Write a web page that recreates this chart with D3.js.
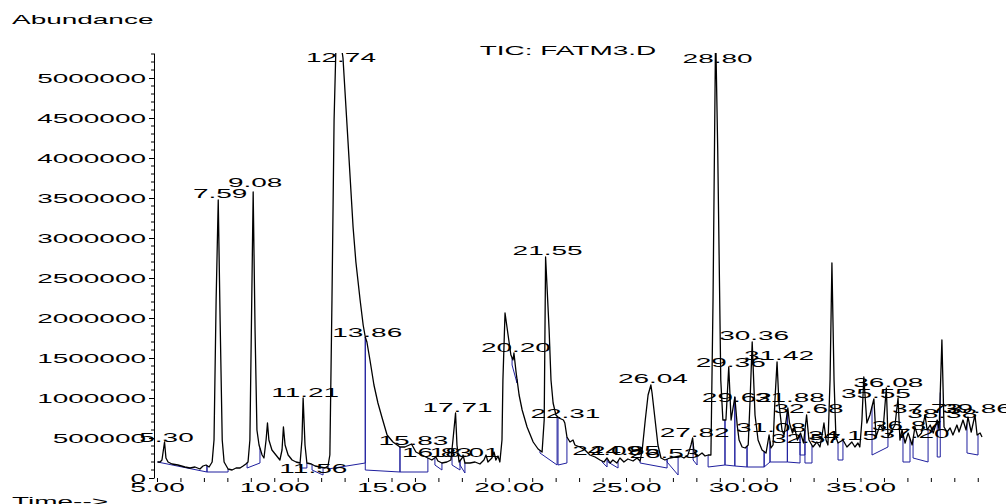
<!DOCTYPE html>
<html>
<head>
<meta charset="utf-8">
<script src="https://cdn.jsdelivr.net/npm/d3@7"></script>
<style>
body { margin: 0; background: #fff; }
svg text { font-family: "Liberation Sans", Arial, sans-serif; font-size: 13px; fill: #000; }
</style>
</head>
<body>
<svg id="chart" width="1006" height="504"></svg>
<script>
// TIC trace: [time (min), abundance]
const ticTrace = [
  [5.00,200000],[5.11,200000],[5.19,225000],[5.30,450000],[5.36,250000],[5.45,200000],[5.62,175000],
  [5.87,162500],[6.17,137500],[6.39,125000],[6.60,137500],[6.81,112500],[6.94,150000],[7.07,162500],
  [7.20,137500],[7.33,200000],[7.41,475000],[7.50,2225000],[7.59,3475000],[7.67,1975000],[7.76,475000],
  [7.84,200000],[8.01,112500],[8.18,100000],[8.35,125000],[8.52,125000],[8.65,150000],[8.77,175000],
  [8.86,200000],[8.94,475000],[9.08,3575000],[9.16,1850000],[9.24,600000],[9.33,412500],[9.46,287500],
  [9.54,250000],[9.63,475000],[9.69,687500],[9.75,475000],[9.88,350000],[10.05,287500],[10.22,225000],
  [10.31,350000],[10.37,637500],[10.44,412500],[10.57,287500],[10.74,225000],[10.91,200000],[11.08,187500],
  [11.16,475000],[11.21,1000000],[11.29,412500],[11.37,187500],[11.56,175000],[11.72,150000],[11.93,137500],
  [12.14,125000],[12.27,150000],[12.35,287500],[12.44,2225000],[12.53,4475000],[12.61,5400000],[12.74,5600000],
  [12.91,5250000],[13.12,4225000],[13.34,3137500],[13.46,2700000],[13.64,2225000],[13.77,1912500],[13.86,1762500],
  [13.93,1700000],[14.06,1475000],[14.23,1162500],[14.40,937500],[14.58,750000],[14.79,537500],[15.04,450000],
  [15.34,387500],[15.55,387500],[15.83,425000],[16.02,325000],[16.27,287500],[16.53,250000],[16.70,225000],
  [16.87,262500],[16.96,212500],[17.13,187500],[17.34,200000],[17.51,225000],[17.60,475000],[17.71,812500],
  [17.77,412500],[17.86,200000],[17.99,250000],[18.03,287500],[18.11,187500],[18.33,187500],[18.54,200000],
  [18.75,175000],[18.92,225000],[19.01,287500],[19.09,200000],[19.26,250000],[19.35,325000],[19.43,225000],
  [19.52,275000],[19.60,200000],[19.69,475000],[19.73,1225000],[19.82,2062500],[19.95,1787500],[20.07,1537500],
  [20.16,1475000],[20.20,1562500],[20.29,1325000],[20.42,1037500],[20.55,850000],[20.76,637500],[21.02,450000],
  [21.23,362500],[21.40,325000],[21.49,725000],[21.55,2762500],[21.70,1850000],[21.78,1225000],[21.87,937500],
  [21.99,787500],[22.12,750000],[22.31,725000],[22.37,687500],[22.46,512500],[22.59,450000],[22.72,475000],
  [22.80,412500],[23.01,387500],[23.23,350000],[23.44,287500],[23.66,262500],[23.87,225000],[24.04,200000],
  [24.17,250000],[24.30,187500],[24.42,225000],[24.59,187500],[24.72,250000],[24.89,200000],[25.06,237500],
  [25.28,212500],[25.45,250000],[25.58,212500],[25.67,350000],[25.80,725000],[25.92,1037500],[26.04,1162500],
  [26.09,1062500],[26.22,725000],[26.34,412500],[26.47,250000],[26.64,225000],[26.85,250000],[27.07,262500],
  [27.28,275000],[27.45,250000],[27.62,287500],[27.75,412500],[27.82,500000],[27.88,325000],[28.05,275000],
  [28.22,312500],[28.35,275000],[28.48,287500],[28.60,287500],[28.69,2225000],[28.80,5600000],[28.89,4100000],
  [29.02,1225000],[29.11,725000],[29.24,725000],[29.36,1387500],[29.46,725000],[29.62,1012500],[29.72,662500],
  [29.80,475000],[29.93,387500],[30.06,375000],[30.19,412500],[30.27,975000],[30.36,1700000],[30.48,787500],
  [30.61,475000],[30.78,350000],[30.95,312500],[31.08,537500],[31.16,375000],[31.25,412500],[31.33,975000],
  [31.42,1450000],[31.50,937500],[31.63,600000],[31.72,537500],[31.88,875000],[31.95,687500],[32.08,562500],
  [32.16,637500],[32.29,475000],[32.42,562500],[32.55,437500],[32.61,600000],[32.68,787500],[32.78,475000],
  [32.95,387500],[33.12,450000],[33.25,387500],[33.34,537500],[33.42,687500],[33.51,475000],[33.59,412500],
  [33.68,1225000],[33.76,2687500],[33.85,1225000],[33.93,512500],[34.02,437500],[34.23,475000],[34.40,387500],
  [34.61,450000],[34.74,387500],[34.87,437500],[34.95,387500],[35.04,725000],[35.12,1262500],[35.25,687500],
  [35.38,787500],[35.55,987500],[35.64,512500],[35.81,662500],[35.94,600000],[36.08,1125000],[36.15,512500],
  [36.32,600000],[36.45,662500],[36.58,1000000],[36.66,475000],[36.75,600000],[36.88,437500],[37.01,562500],
  [37.18,412500],[37.30,637500],[37.43,512500],[37.58,562500],[37.73,787500],[37.82,600000],[37.95,662500],
  [38.08,562500],[38.25,725000],[38.33,600000],[38.45,1725000],[38.54,637500],[38.67,575000],[38.80,625000],
  [38.92,537500],[39.09,662500],[39.18,575000],[39.35,725000],[39.48,600000],[39.56,762500],[39.70,575000],
  [39.86,787500],[39.95,537500],[40.08,562500],[40.16,512500]
];

// integration baselines: [t1, abundance1, t2, abundance2]
const baselines = [
  [5.00,200000,7.11,75000],[7.11,75000,8.01,75000],[8.82,125000,9.37,187500],
  [11.08,125000,11.37,125000],[11.59,100000,12.06,37500],[12.27,112500,13.86,187500],
  [13.86,100000,15.34,75000],[15.34,75000,16.53,75000],[16.83,162500,17.13,100000],
  [17.56,162500,17.90,100000],[17.90,162500,18.11,62500],[20.12,1412500,20.33,1187500],
  [21.31,312500,22.04,162500],[22.08,162500,22.46,187500],[23.96,200000,24.17,137500],
  [24.21,200000,24.64,125000],[25.58,187500,26.73,125000],[26.73,200000,27.20,37500],
  [27.84,225000,28.01,162500],[28.48,137500,29.20,162500],[29.20,162500,29.62,150000],
  [29.62,150000,30.14,137500],[30.14,137500,30.87,137500],[30.87,137500,31.12,200000],
  [31.12,200000,31.86,200000],[31.86,200000,32.40,187500],[32.40,287500,32.61,287500],
  [32.61,187500,32.91,187500],[34.02,225000,34.23,225000],[35.47,287500,36.15,387500],
  [36.79,200000,37.09,200000],[37.22,250000,37.86,200000],[38.25,262500,38.38,262500],
  [39.52,312500,39.99,287500]
];

const peakNames = ["5.30","7.59","9.08","11.21","11.56","12.74","13.86","15.83","16.83","18.01","17.71",
  "20.20","21.55","22.31","24.09","24.85","26.53","26.04","27.82","28.80","29.36","29.62","30.36","31.08",
  "31.42","31.88","32.57","32.68","34.15","35.55","36.08","36.87","37.20","37.73","38.38","39.86"];
const peakTimes = [5.30,7.59,9.08,11.21,11.56,12.74,13.86,15.83,16.83,18.01,17.71,
  20.20,21.55,22.31,24.09,24.85,26.53,26.04,27.82,28.80,29.36,29.62,30.36,31.08,
  31.42,31.88,32.57,32.68,34.15,35.55,36.08,36.87,37.20,37.73,38.38,39.86];
// abundance at which each label's baseline sits
const peakLabelAbund = [450000,3500000,3637500,1012500,62500,5200000,1762500,412500,262500,262500,825000,
  1575000,2787500,750000,287500,287500,250000,1187500,512500,5187500,1387500,950000,1725000,575000,
  1475000,950000,437500,812500,475000,1000000,1137500,600000,500000,812500,750000,812500];

const yTickValues = [0,500000,1000000,1500000,2000000,2500000,3000000,3500000,4000000,4500000,5000000];
const xTickValues = [5,10,15,20,25,30,35];
const xTickLabels = ["5.00","10.00","15.00","20.00","25.00","30.00","35.00"];

const STRETCH = 2.15;
const svg = d3.select("#chart");

const x = d3.scaleLinear().domain([5, 40]).range([157.5, 978.25]);
const y = d3.scaleLinear().domain([0, 5312500]).range([478, 53]);

function stretch(sel) {
    sel.each(function () {
        const len = this.getComputedTextLength();
        d3.select(this).attr("textLength", len * STRETCH).attr("lengthAdjust", "spacingAndGlyphs");
    });
}

function traceAt(t) {
    for (let i = 0; i < ticTrace.length - 1; i++) {
        const a = ticTrace[i], b = ticTrace[i + 1];
        if (t >= a[0] && t <= b[0]) {
            return a[1] + (b[1] - a[1]) * (t - a[0]) / (b[0] - a[0]);
        }
    }
    return ticTrace[ticTrace.length - 1][1];
}

svg.append("clipPath").attr("id", "plotClip")
    .append("rect").attr("x", 154).attr("y", 53).attr("width", 852).attr("height", 430);

// y axis
const yAxis = svg.append("g").attr("transform", "translate(154,0)")
    .call(d3.axisLeft(y).tickValues(yTickValues).tickSize(5).tickSizeOuter(0).tickPadding(3)
        .tickFormat(d3.format("d")));
yAxis.selectAll("text").attr("dy", "0.36em").style("font-size", "13px").style("font-family", null);
yAxis.selectAll("line, path").attr("stroke", "#000");
yAxis.attr("font-family", null).attr("font-size", null);
stretch(yAxis.selectAll("text"));

const yMinor = d3.range(0, 5312500, 100000).filter(v => v % 500000 !== 0);
svg.append("g").selectAll("line").data(yMinor).join("line")
    .attr("x1", 151).attr("x2", 154)
    .attr("y1", d => y(d)).attr("y2", d => y(d))
    .attr("stroke", "#000");

// x axis ticks, no domain line
const xMinor = d3.range(5, 41, 1);
svg.append("g").selectAll("line").data(xMinor).join("line")
    .attr("x1", d => x(d)).attr("x2", d => x(d))
    .attr("y1", 478).attr("y2", 482)
    .attr("stroke", "#000");
const xLab = svg.append("g").selectAll("text").data(xTickValues).join("text")
    .attr("x", d => x(d)).attr("y", 492)
    .attr("text-anchor", "middle")
    .text((d, i) => xTickLabels[i]);
stretch(xLab);

// integration baselines and drop lines
const plot = svg.append("g").attr("clip-path", "url(#plotClip)");
const blue = "#1f1f9e";
plot.append("g").selectAll("line").data(baselines).join("line")
    .attr("x1", d => x(d[0])).attr("y1", d => y(d[1]))
    .attr("x2", d => x(d[2])).attr("y2", d => y(d[3]))
    .attr("stroke", blue).attr("stroke-width", 1);
const drops = [];
baselines.forEach(b => {
    drops.push([b[0], b[1]]);
    drops.push([b[2], b[3]]);
});
plot.append("g").selectAll("line").data(drops).join("line")
    .attr("x1", d => x(d[0])).attr("x2", d => x(d[0]))
    .attr("y1", d => y(d[1])).attr("y2", d => y(Math.max(d[1], traceAt(d[0]))))
    .attr("stroke", blue).attr("stroke-width", 1);

// trace
plot.append("path").datum(ticTrace)
    .attr("d", d3.line().x(d => x(d[0])).y(d => y(d[1])))
    .attr("fill", "none").attr("stroke", "#000").attr("stroke-width", 1.3)
    .attr("stroke-linejoin", "round");

// peak labels
const labels = svg.append("g").selectAll("text").data(peakNames).join("text")
    .attr("x", (d, i) => x(peakTimes[i]) + 2)
    .attr("y", (d, i) => y(peakLabelAbund[i]))
    .attr("text-anchor", "middle")
    .text(d => d);
stretch(labels);

// titles
stretch(svg.append("text").attr("x", 12).attr("y", 24).text("Abundance"));
stretch(svg.append("text").attr("x", 568).attr("y", 55).attr("text-anchor", "middle").text("TIC: FATM3.D"));
stretch(svg.append("text").attr("x", 12).attr("y", 506).text("Time-->"));
</script>
</body>
</html>
